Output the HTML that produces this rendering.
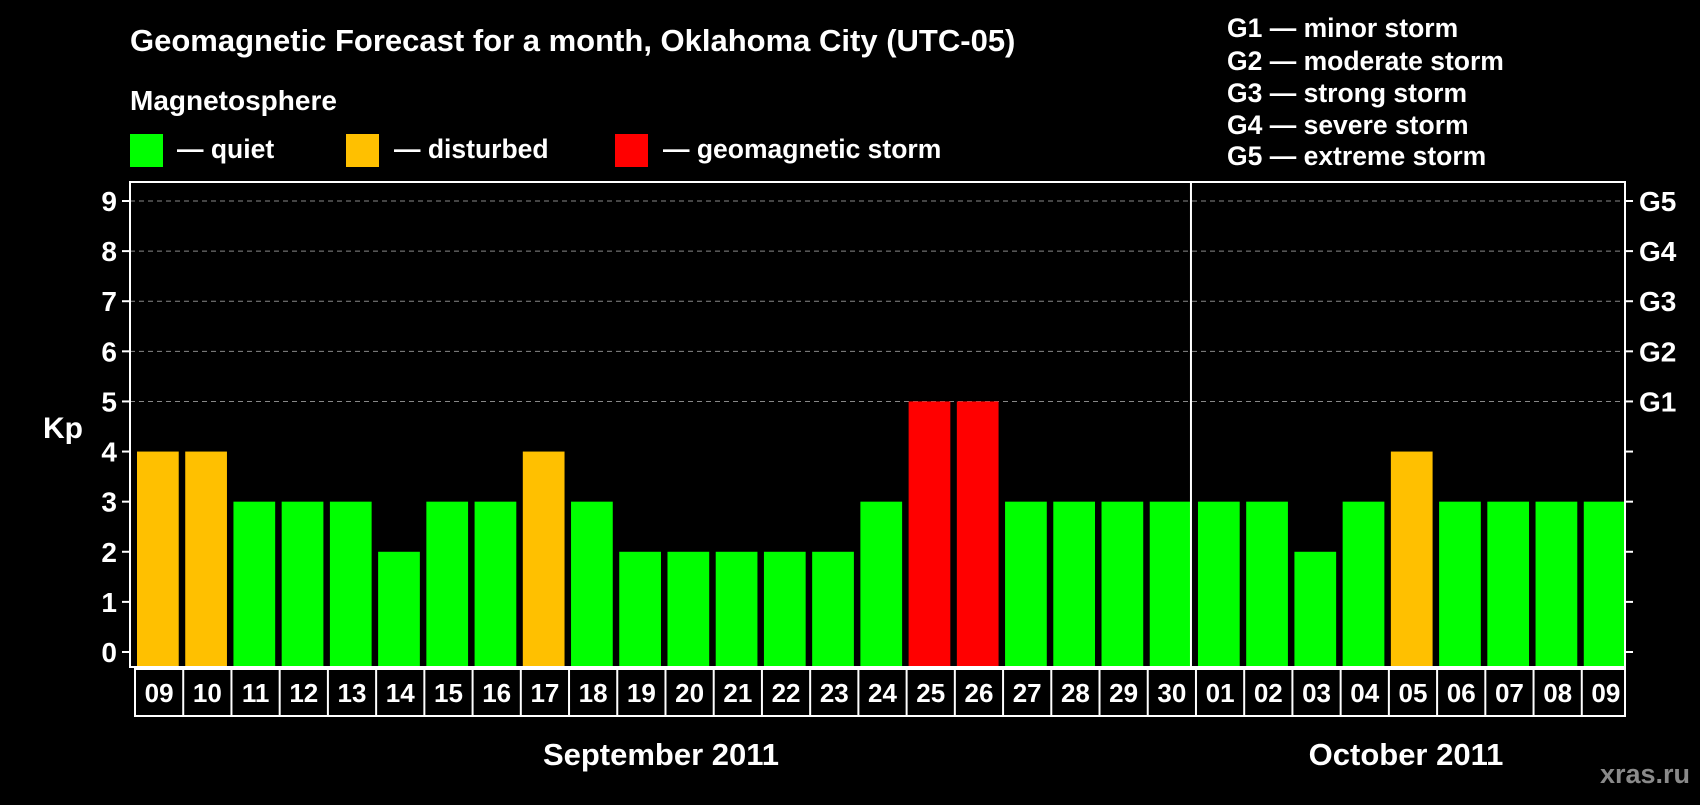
<!DOCTYPE html>
<html><head><meta charset="utf-8"><style>
body{margin:0;background:#000;width:1700px;height:800px;overflow:hidden;font-family:"Liberation Sans",sans-serif;font-weight:bold;color:#fff}
svg text{font-family:"Liberation Sans",sans-serif;font-weight:bold;fill:#fff}
</style></head><body>
<svg id="c" width="1700" height="800">
<text x="130" y="51" font-size="31">Geomagnetic Forecast for a month, Oklahoma City (UTC-05)</text>
<text x="130" y="110" font-size="28">Magnetosphere</text>
<rect x="130" y="134" width="33" height="33" fill="#00ff00"/>
<text x="177" y="158" font-size="26.5">— quiet</text>
<rect x="346" y="134" width="33" height="33" fill="#ffc000"/>
<text x="394" y="158" font-size="26.5">— disturbed</text>
<rect x="615" y="134" width="33" height="33" fill="#ff0000"/>
<text x="663" y="158" font-size="26.5">— geomagnetic storm</text>
<g font-size="26.5">
<text x="1227" y="37">G1 — minor storm</text>
<text x="1227" y="70">G2 — moderate storm</text>
<text x="1227" y="102">G3 — strong storm</text>
<text x="1227" y="134">G4 — severe storm</text>
<text x="1227" y="165">G5 — extreme storm</text>
</g>
<text x="43" y="438" font-size="30">Kp</text>
<g id="plot"></g>
<text x="661" y="765" font-size="31" text-anchor="middle">September 2011</text>
<text x="1406" y="765" font-size="31" text-anchor="middle">October 2011</text>
<text x="1690" y="783" font-size="27" text-anchor="end" style="fill:#8a8a8a">xras.ru</text>
</svg>
<script>
const days=["09","10","11","12","13","14","15","16","17","18","19","20","21","22","23","24","25","26","27","28","29","30","01","02","03","04","05","06","07","08","09"];
const kp=[4,4,3,3,3,2,3,3,4,3,2,2,2,2,2,3,5,5,3,3,3,3,3,3,2,3,4,3,3,3,3];
const yTicks=[0,1,2,3,4,5,6,7,8,9];
const gLabels=["","","","","","G1","G2","G3","G4","G5"];
const L=130,R=1625,T=182,B=667,Y0=652,Y9=201;
const pitch=(R-L)/days.length;
const y=v=>Y0-(Y0-Y9)*v/9;
const x=i=>L+i*pitch;
const g=document.getElementById('plot');
const NS="http://www.w3.org/2000/svg";
function mk(t,a){const e=document.createElementNS(NS,t);for(const k in a)e.setAttribute(k,a[k]);g.appendChild(e);return e;}
yTicks.forEach((v,i)=>{
 if(v>=5){const l=mk('line',{x1:L,x2:R,y1:y(v),y2:y(v),stroke:'#888','stroke-dasharray':'5,4','stroke-width':1});
 
 }
 const t1=mk('line',{x1:L-8,x2:L,y1:y(v),y2:y(v),stroke:'#fff','stroke-width':2});
 
 
 mk('line',{x1:R,x2:R+8,y1:y(v),y2:y(v),stroke:'#fff','stroke-width':2});
 const tl=mk('text',{x:L-13,y:y(v)+10,'font-size':28,'text-anchor':'end'});tl.textContent=v;
 
 
 if(gLabels[i]){const gt=mk('text',{x:R+14,y:y(v)+10,'font-size':28});gt.textContent=gLabels[i];
 
 }
});
kp.forEach((v,i)=>{
 const c=v>=5?'#ff0000':v>=4?'#ffc000':'#00ff00';
 const r=mk('rect',{x:x(i)+7,y:y(v),width:pitch-6.5,height:B-y(v),fill:c});
 
 
});
const fr=mk('rect',{x:L,y:T,width:R-L,height:B-T,fill:'none',stroke:'#fff','stroke-width':2});


const sep=days.indexOf("01");
const dv=mk('line',{x1:x(sep),x2:x(sep),y1:T,y2:B,stroke:'#fff','stroke-width':2});


mk('rect',{x:L+5,y:B+2,width:R-L-5,height:47,fill:'none',stroke:'#fff','stroke-width':2});
days.forEach((d,i)=>{
 if(i>0)mk('line',{x1:x(i)+5,x2:x(i)+5,y1:B+2,y2:B+49,stroke:'#fff','stroke-width':2});
 const t=mk('text',{x:x(i)+5+pitch/2,y:B+35,'font-size':26,'text-anchor':'middle'});t.textContent=d;
 
 
});
</script>
</body></html>
